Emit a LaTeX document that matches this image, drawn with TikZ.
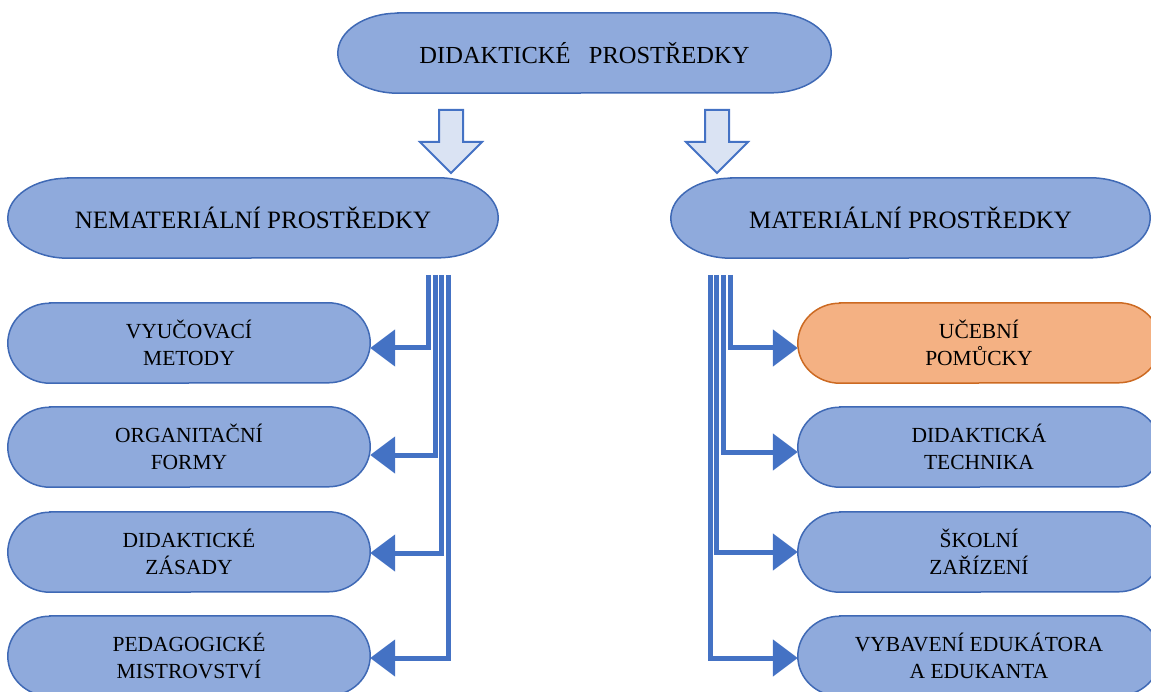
\documentclass[tikz,border=0pt]{standalone}
\usepackage{fontspec}
\setmainfont{Liberation Serif}
\usetikzlibrary{arrows.meta,backgrounds}
\definecolor{boxfill}{HTML}{8FAADC}
\definecolor{boxline}{HTML}{3F69B5}
\definecolor{ofill}{HTML}{F4B183}
\definecolor{oline}{HTML}{CC6A22}
\definecolor{conn}{HTML}{4472C4}
\definecolor{afill}{HTML}{DAE3F3}
\newcommand\pillbg[3]{%
  \path[#3] ([xshift=#2pt]#1.north west) -- ([xshift=-#2pt]#1.north east)
    arc[start angle=90, end angle=-90, x radius=#2pt, y radius=40pt]
    -- ([xshift=#2pt]#1.south west)
    arc[start angle=270, end angle=90, x radius=#2pt, y radius=40pt] -- cycle;}
\tikzset{
  big/.style={minimum height=80pt, inner sep=0pt, font=\fontsize{25}{30}\selectfont, align=center},
  small/.style={minimum width=362pt, minimum height=80pt, inner sep=0pt, font=\fontsize{21.5}{27}\selectfont, align=center},
  bluepill/.style={fill=boxfill, draw=boxline, line width=1.5pt},
  orangepill/.style={fill=ofill, draw=oline, line width=1.5pt},
  link/.style={draw=conn, line width=5pt, -{Triangle[length=25pt,width=36pt]}},
  hollow/.style={fill=afill, draw=conn, line width=2pt, line join=miter},
}
\begin{document}
\begin{tikzpicture}[x=1pt, y=-1pt]
\useasboundingbox (0,0) rectangle (1151,692);
% top
\node[big, minimum width=493pt, font=\fontsize{24.5}{30}\selectfont] (top) at (584.5,53) {DIDAKTICKÉ\hspace{0.5em} PROSTŘEDKY};
\node[big, minimum width=490pt] (nem) at (253,218) {NEMATERIÁLNÍ PROSTŘEDKY};
\node[big, minimum width=479pt] (mat) at (910.5,218) {MATERIÁLNÍ PROSTŘEDKY};
% left boxes
\node[small] (l1) at (189,343) {VYUČOVACÍ\\METODY};
\node[small] (l2) at (189,447) {ORGANITAČNÍ\\FORMY};
\node[small] (l3) at (189,552) {DIDAKTICKÉ\\ZÁSADY};
\node[small] (l4) at (189,656) {PEDAGOGICKÉ\\MISTROVSTVÍ};
% right boxes
\node[small] (r1) at (979,343) {UČEBNÍ\\POMŮCKY};
\node[small] (r2) at (979,447) {DIDAKTICKÁ\\TECHNIKA};
\node[small] (r3) at (979,552) {ŠKOLNÍ\\ZAŘÍZENÍ};
\node[small] (r4) at (979,656) {VYBAVENÍ EDUKÁTORA\\A EDUKANTA};
\begin{pgfonlayer}{background}
  \pillbg{top}{60}{bluepill}
  \pillbg{nem}{60}{bluepill}
  \pillbg{mat}{60}{bluepill}
  \pillbg{l1}{42}{bluepill}
  \pillbg{l2}{42}{bluepill}
  \pillbg{l3}{42}{bluepill}
  \pillbg{l4}{42}{bluepill}
  \pillbg{r1}{42}{orangepill}
  \pillbg{r2}{42}{bluepill}
  \pillbg{r3}{42}{bluepill}
  \pillbg{r4}{42}{bluepill}
\end{pgfonlayer}
% hollow block arrows
\draw[hollow] (439,110) -- (463,110) -- (463,142) -- (482,142) -- (451,173) -- (420,142) -- (439,142) -- cycle;
\draw[hollow] (705,110) -- (729,110) -- (729,142) -- (748,142) -- (717,173) -- (686,142) -- (705,142) -- cycle;
% connector start points
\coordinate (ls1) at (428,275);
\coordinate (ls2) at (435,275);
\coordinate (ls3) at (441.5,275);
\coordinate (ls4) at (448.5,275);
\coordinate (rs1) at (730.5,275);
\coordinate (rs2) at (723,275);
\coordinate (rs3) at (716.5,275);
\coordinate (rs4) at (710,275);
% left connectors
\draw[link] (ls1) |- ([yshift=-5pt]l1.east);
\draw[link] (ls2) |- ([yshift=-8pt]l2.east);
\draw[link] (ls3) |- ([yshift=-1pt]l3.east);
\draw[link] (ls4) |- ([yshift=-2pt]l4.east);
% right connectors
\draw[link] (rs1) |- ([yshift=-5pt]r1.west);
\draw[link] (rs2) |- ([yshift=-5pt]r2.west);
\draw[link] (rs3) |- ([yshift=0pt]r3.west);
\draw[link] (rs4) |- ([yshift=-2pt]r4.west);
\end{tikzpicture}
\end{document}
